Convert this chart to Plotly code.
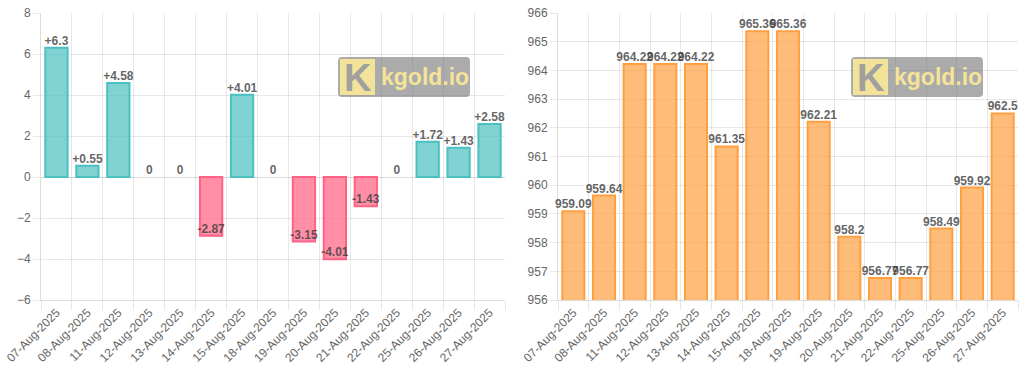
import plotly.graph_objects as go

dates = ["07-Aug-2025", "08-Aug-2025", "11-Aug-2025", "12-Aug-2025", "13-Aug-2025",
         "14-Aug-2025", "15-Aug-2025", "18-Aug-2025", "19-Aug-2025", "20-Aug-2025",
         "21-Aug-2025", "22-Aug-2025", "25-Aug-2025", "26-Aug-2025", "27-Aug-2025"]
changes = [6.3, 0.55, 4.58, 0, 0, -2.87, 4.01, 0, -3.15, -4.01, -1.43, 0, 1.72, 1.43, 2.58]
prices = [959.09, 959.64, 964.22, 964.22, 964.22, 961.35, 965.36, 965.36, 962.21,
          958.2, 956.77, 956.77, 958.49, 959.92, 962.5]
left_yticks = [-6, -4, -2, 0, 2, 4, 6, 8]
right_yticks = [956, 957, 958, 959, 960, 961, 962, 963, 964, 965, 966]

W, H = 1024, 390
ML, MT = 41, 13
MR = W - 1018
MB = H - 300
PW, PH = W - ML - MR, H - MT - MB
def px(x): return (x - ML) / PW
def py(y): return (H - MB - y) / PH

FONT = "Liberation Sans, Arial, Helvetica, sans-serif"
GRID = "rgba(0,0,0,0.09)"
AXIS = "rgba(120,90,70,0.22)"
TICKC = "#666"
LABC = "rgba(60,60,60,0.8)"

idx = list(range(len(dates)))

def fmt_change(v):
    if v > 0:
        return f"+{v:g}"
    return f"{v:g}"

fig = go.Figure()

pos_fill = "rgba(75,192,192,0.7)"
pos_line = "rgb(75,192,192)"
neg_fill = "rgba(255,99,132,0.72)"
neg_line = "rgb(255,99,132)"

fig.add_trace(go.Bar(
    x=idx, y=changes, width=0.72,
    marker=dict(color=[pos_fill if v >= 0 else neg_fill for v in changes],
                line=dict(color=[pos_line if v >= 0 else neg_line for v in changes],
                          width=[0 if v == 0 else 2 for v in changes])),
    xaxis="x", yaxis="y", hoverinfo="skip", showlegend=False))
fig.add_trace(go.Scatter(
    x=idx, y=changes, mode="text", text=[fmt_change(v) for v in changes],
    textposition="top center", textfont=dict(family=FONT, size=12, color=LABC, weight="bold"),
    xaxis="x", yaxis="y", hoverinfo="skip", showlegend=False, cliponaxis=False))

fig.add_trace(go.Bar(
    x=idx, y=prices, width=0.72,
    marker=dict(color="rgba(255,159,64,0.7)", line=dict(color="rgb(255,159,64)", width=2)),
    xaxis="x2", yaxis="y2", hoverinfo="skip", showlegend=False))
fig.add_trace(go.Scatter(
    x=idx, y=prices, mode="text", text=[f"{v:g}" for v in prices],
    textposition="top center", textfont=dict(family=FONT, size=12, color=LABC, weight="bold"),
    xaxis="x2", yaxis="y2", hoverinfo="skip", showlegend=False, cliponaxis=False))

def xaxis(domain, anchor):
    return dict(domain=domain, anchor=anchor, range=[-0.5, len(dates) - 0.5],
                tickmode="array", tickvals=idx, ticktext=dates, tickangle=-45,
                tickfont=dict(family=FONT, size=12, color=TICKC),
                showgrid=False, ticks="", zeroline=False, automargin=False,
                ticklabeloverflow="allow",
                showline=True, linecolor=AXIS, linewidth=1,
                minor=dict(tick0=-0.5, dtick=1, showgrid=True, gridcolor=GRID, gridwidth=1,
                           ticks="outside", ticklen=9, tickcolor=GRID, tickwidth=1),
                fixedrange=True)

def yaxis(domain, anchor, rng, tv):
    return dict(domain=domain, anchor=anchor, range=rng, tickmode="array", tickvals=tv,
                tickfont=dict(family=FONT, size=12, color=TICKC), automargin=False,
                ticklabeloverflow="allow",
                showgrid=True, gridcolor=GRID, gridwidth=1,
                ticks="outside", ticklen=7, tickcolor=GRID,
                zeroline=True, zerolinecolor="rgba(0,0,0,0.14)", zerolinewidth=1,
                showline=True, linecolor=AXIS, linewidth=1, fixedrange=True)

ydom = [0, 1]
fig.update_layout(
    width=W, height=H, margin=dict(l=ML, r=MR, t=MT, b=MB, pad=0, autoexpand=False),
    paper_bgcolor="white", plot_bgcolor="white",
    bargap=0, hovermode=False,
    xaxis=xaxis([px(41), px(505)], "y"),
    yaxis=yaxis(ydom, "x", [-6, 8], left_yticks),
    xaxis2=xaxis([px(558), px(1018)], "y2"),
    yaxis2=yaxis(ydom, "x2", [956, 966], right_yticks),
)

# watermark logos
def logo(x0):
    y0, y1 = 57, 97
    x1 = x0 + 132
    r = 4
    path = (f"M{px(x0+r)},{py(y0)} L{px(x1-r)},{py(y0)} Q{px(x1)},{py(y0)} {px(x1)},{py(y0+r)} "
            f"L{px(x1)},{py(y1-r)} Q{px(x1)},{py(y1)} {px(x1-r)},{py(y1)} "
            f"L{px(x0+r)},{py(y1)} Q{px(x0)},{py(y1)} {px(x0)},{py(y1-r)} "
            f"L{px(x0)},{py(y0+r)} Q{px(x0)},{py(y0)} {px(x0+r)},{py(y0)} Z")
    fig.add_shape(type="path", path=path, xref="paper", yref="paper",
                  fillcolor="rgba(110,110,110,0.58)", line=dict(width=0), layer="above")
    fig.add_shape(type="rect", xref="paper", yref="paper",
                  x0=px(x0 + 2), x1=px(x0 + 37), y0=py(95), y1=py(59),
                  fillcolor="rgba(255,236,150,0.85)", line=dict(width=0), layer="above")
    fig.add_annotation(x=px(x0 + 20), y=py(78), xref="paper", yref="paper", text="<b>K</b>",
                       showarrow=False, font=dict(family=FONT, size=38, color="rgba(160,160,160,1)"),
                       xanchor="center", yanchor="middle")
    fig.add_annotation(x=px(x0 + 41), y=py(77), xref="paper", yref="paper", text="<b>kgold.io</b>",
                       showarrow=False, font=dict(family=FONT, size=23, color="rgba(255,236,150,0.9)"),
                       xanchor="left", yanchor="middle")

logo(338)
logo(851)

fig.write_html("out.html", config={"displayModeBar": False, "staticPlot": True},
               post_script="document.body.style.margin='0px';document.body.style.overflow='hidden';")
